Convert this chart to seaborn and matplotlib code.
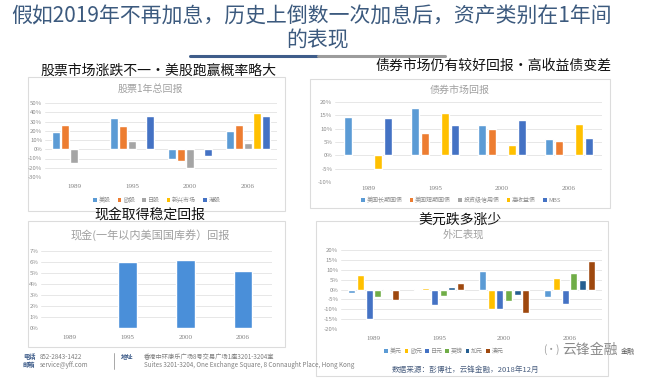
import numpy as np
import pandas as pd
import matplotlib
matplotlib.use('Agg')
import matplotlib.pyplot as plt
import seaborn as sns
from matplotlib.patches import Rectangle, Patch
from matplotlib.ticker import FuncFormatter, MultipleLocator

nan = np.nan
years = ['1989', '1995', '2000', '2006']

# Stocks: 1-year total return (%)
stock_names = ['美股', '欧股', '日股', '新兴市场', '港股']
us_stock = [19, 34, -10, 20]
eu_stock = [26, 25, -13, 26]
jp_stock = [-15, 9, -20, 7]
em_stock = [nan, nan, nan, 39]
hk_stock = [nan, 36, -7, 36]

# Bonds (%)
bond_names = ['美国长期国债', '美国短期国债', '投资级信用债', '高收益债', 'MBS']
long_tsy = [14.4, 17.9, 11.3, 6.0]
short_tsy = [nan, 8.4, 9.9, 5.3]
ig_credit = [nan, nan, nan, nan]
high_yield = [-5.0, 15.9, 4.0, 11.6]
mbs = [14.0, 11.5, 13.4, 6.5]

# Cash (%)
cash_name = ['现金']
cash = [nan, 6.0, 6.15, 5.2]

# FX (%)
fx_names = ['美元', '欧元', '日元', '英镑', '加元', '澳元']
usd = [-1.7, 0.2, 9.3, -4.0]
eur = [7.3, 1.0, -10.0, 5.6]
jpy = [-15.0, -8.0, -10.0, -7.3]
gbp = [-4.0, -3.4, -5.7, 8.4]
cad = [0.5, 1.2, -2.9, 4.7]
aud = [-5.4, 3.2, -11.8, 14.4]

stock_colors = ['#5B9BD5', '#ED7D31', '#A5A5A5', '#FFC000', '#4472C4']
bond_colors = ['#5B9BD5', '#ED7D31', '#A5A5A5', '#FFC000', '#4472C4']
cash_colors = ['#4A8FD9']
fx_colors = ['#5B9BD5', '#FFC000', '#4472C4', '#70AD47', '#255E91', '#9E480E']

sns.set_style('white')
plt.rcParams['font.family'] = ['Noto Sans CJK SC', 'DejaVu Sans']

W, H = 661, 380
fig = plt.figure(figsize=(W / 100, H / 100), dpi=100)
fig.patch.set_facecolor('white')


def fx_(x):
    return x / W


def fy_(y):
    return 1 - y / H


def box(x0, y0, x1, y1):
    fig.patches.append(Rectangle((fx_(x0), fy_(y1)), (x1 - x0) / W, (y1 - y0) / H,
                                 transform=fig.transFigure, facecolor='white',
                                 edgecolor='#dcdcdc', lw=0.8, zorder=-5))


def make_axes(x0, y0, x1, y1):
    ax = fig.add_axes([fx_(x0), fy_(y1), (x1 - x0) / W, (y1 - y0) / H])
    ax.set_facecolor('none')
    ax.set_zorder(2)
    return ax


def long_df(names, series):
    rows = []
    for n, vals in zip(names, series):
        for yr, v in zip(years, vals):
            rows.append({'year': yr, 'series': n, 'value': v})
    return pd.DataFrame(rows)


def draw_bars(ax, names, series, colors, ylo, yhi, step, width, gap, pad):
    df = long_df(names, series)
    sns.barplot(data=df, x='year', y='value', hue='series', hue_order=names,
                order=years, palette=dict(zip(names, colors)), errorbar=None,
                width=width, gap=gap, ax=ax, legend=False, saturation=1)
    ax.set_ylim(ylo, yhi)
    ax.set_xlim(-0.5, 3.5)
    ax.yaxis.set_major_locator(MultipleLocator(step))
    ax.yaxis.set_major_formatter(FuncFormatter(lambda v, p: f'{v:.0f}%'))
    ax.yaxis.grid(True, color='#e3e3e3', lw=0.6)
    ax.set_axisbelow(True)
    for s in ax.spines.values():
        s.set_visible(False)
    ax.set_xlabel('')
    ax.set_ylabel('')
    ax.tick_params(axis='y', length=0, labelsize=4.3, labelcolor='#8c8c8c', pad=2)
    ax.tick_params(axis='x', length=0, labelsize=5, labelcolor='#7f7f7f', pad=pad)
    for lbl in ax.get_xticklabels():
        lbl.set_fontfamily(['Liberation Serif', 'DejaVu Serif'])


def legend(names, colors, x, y, spacing=1.2):
    handles = [Patch(facecolor=c, edgecolor='none') for c in colors]
    fig.legend(handles, names, loc='center', bbox_to_anchor=(fx_(x), fy_(y)),
               ncol=len(names), frameon=False, fontsize=4.3, handlelength=0.6,
               handleheight=0.6, handletextpad=0.3, columnspacing=spacing,
               labelcolor='#8c8c8c')


# ---------- header ----------
title_color = '#3c5a7e'
fig.text(fx_(312), fy_(16), '假如2019年不再加息，历史上倒数一次加息后，资产类别在1年间',
         ha='center', va='center', fontsize=15, color=title_color)
fig.text(fx_(318), fy_(40), '的表现', ha='center', va='center', fontsize=15,
         color=title_color)
fig.add_artist(plt.Line2D([fx_(190), fx_(318)], [fy_(56), fy_(56)],
                          transform=fig.transFigure, color='#3f5d8a', lw=2.2))
fig.add_artist(plt.Line2D([fx_(318), fx_(445)], [fy_(56), fy_(56)],
                          transform=fig.transFigure, color='#9c9c9c', lw=2.2))

# ---------- panel boxes ----------
box(28, 77, 285, 211)
box(310, 79, 610, 208)
box(28, 221, 285, 347)
box(316, 221, 608, 376)

# ---------- stocks ----------
ax1 = make_axes(45, 103, 277, 177)
draw_bars(ax1, stock_names, [us_stock, eu_stock, jp_stock, em_stock, hk_stock],
          stock_colors, -30, 50, 10, 0.77, 0.17, 5)
fig.text(fx_(158), fy_(71), '股票市场涨跌不一·美股跑赢概率略大', ha='center',
         va='center', fontsize=10, color='#111111', zorder=5)
fig.text(fx_(150), fy_(89), '股票1年总回报', ha='center', va='center',
         fontsize=7.2, color='#a0a0a0')
legend(stock_names, stock_colors, 157, 200)

# ---------- bonds ----------
ax2 = make_axes(335, 102, 602, 182)
draw_bars(ax2, bond_names, [long_tsy, short_tsy, ig_credit, high_yield, mbs],
          bond_colors, -10, 20, 5, 0.75, 0.22, 3)
fig.text(fx_(493), fy_(66), '债券市场仍有较好回报·高收益债变差', ha='center',
         va='center', fontsize=10, color='#111111', zorder=5)
fig.text(fx_(460), fy_(90), '债券市场回报', ha='center', va='center',
         fontsize=7.2, color='#a0a0a0')
legend(bond_names, bond_colors, 461, 200)

# ---------- cash ----------
ax3 = make_axes(41, 251, 272, 328)
draw_bars(ax3, cash_name, [cash], cash_colors, 0, 7, 1, 0.32, 0, 5)
fig.text(fx_(150), fy_(215), '现金取得稳定回报', ha='center', va='center',
         fontsize=10, color='#111111', zorder=5)
fig.text(fx_(150), fy_(235), '现金(一年以内美国国库券）回报', ha='center',
         va='center', fontsize=8, color='#a0a0a0')

# ---------- FX ----------
ax4 = make_axes(341, 250, 602, 329)
draw_bars(ax4, fx_names, [usd, eur, jpy, gbp, cad, aud], fx_colors,
          -20, 20, 5, 0.8, 0.2, 5)
fig.text(fx_(460), fy_(220), '美元跌多涨少', ha='center', va='center',
         fontsize=10, color='#111111', zorder=5)
fig.text(fx_(463), fy_(235), '外汇表现', ha='center', va='center',
         fontsize=7.5, color='#a0a0a0')
legend(fx_names, fx_colors, 444, 351, spacing=0.5)
fig.text(fx_(392), fy_(370), '数据来源：彭博社，云锋金融，2018年12月', ha='left',
         va='center', fontsize=5.5, color='#4a5f80', style='italic')

# ---------- footer ----------
fig.text(fx_(23), fy_(357), '电话', fontsize=4.5, color='#3f5d8a', va='center',
         weight='bold')
fig.text(fx_(40), fy_(357), '852-2843-1422', fontsize=4.5, color='#7f7f7f',
         va='center')
fig.text(fx_(23), fy_(365), '邮箱', fontsize=4.5, color='#3f5d8a', va='center',
         weight='bold')
fig.text(fx_(40), fy_(365), 'service@yff.com', fontsize=4.5, color='#7f7f7f',
         va='center')
fig.add_artist(plt.Line2D([fx_(114), fx_(114)], [fy_(353), fy_(369)],
                          transform=fig.transFigure, color='#9a9a9a', lw=0.6))
fig.text(fx_(121), fy_(357), '地址', fontsize=4.5, color='#3f5d8a', va='center',
         weight='bold')
fig.text(fx_(144), fy_(357), '香港中环康乐广场8号交易广场1座3201-3204室',
         fontsize=4.5, color='#7f7f7f', va='center')
fig.text(fx_(144), fy_(365),
         'Suites 3201-3204, One Exchange Square, 8 Connaught Place, Hong Kong',
         fontsize=4.5, color='#7f7f7f', va='center')

# watermark
fig.text(fx_(543), fy_(350), '(·)', fontsize=7, color='#9a9a9a', va='center',
         zorder=6)
fig.text(fx_(562), fy_(350), '云锋金融', fontsize=10, color='#8a8a8a',
         va='center', zorder=6)
fig.text(fx_(621), fy_(352), '金融', fontsize=5, color='#555555', va='center',
         zorder=6)

fig.savefig('out.png', dpi=100, facecolor='white')
